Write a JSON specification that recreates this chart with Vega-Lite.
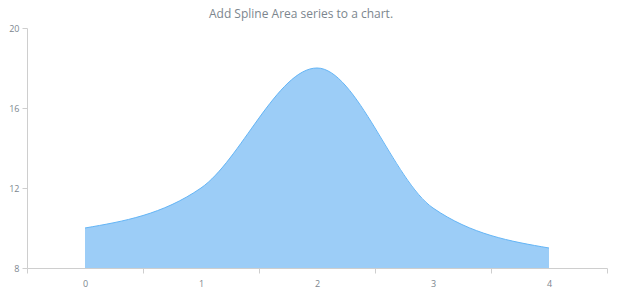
{
  "$schema": "https://vega.github.io/schema/vega-lite/v6.json",
  "autosize": "none",
  "width": 580,
  "height": 240,
  "padding": {"left": 27, "top": 28, "right": 13, "bottom": 32},
  "background": "#ffffff",
  "title": {
    "text": "Add Spline Area series to a chart.",
    "anchor": "middle",
    "dx": -16,
    "offset": 3,
    "fontSize": 12,
    "fontWeight": "normal",
    "font": "Open Sans",
    "color": "#7c868e"
  },
  "data": {
    "values": [
      {"x": "0", "value": 10},
      {"x": "1", "value": 12},
      {"x": "2", "value": 18},
      {"x": "3", "value": 11},
      {"x": "4", "value": 9}
    ]
  },
  "mark": {
    "type": "area",
    "interpolate": "monotone",
    "color": "#9ccdf7",
    "opacity": 1,
    "line": {"color": "#64b5f6", "strokeWidth": 1}
  },
  "encoding": {
    "x": {
      "field": "x",
      "type": "ordinal",
      "bandPosition": 0.5,
      "scale": {"type": "band", "paddingInner": 0, "paddingOuter": 0},
      "axis": {
        "title": null,
        "labelAngle": 0,
        "tickBand": "extent",
        "domainColor": "#cecece",
        "tickColor": "#cecece",
        "tickSize": 5,
        "labelColor": "#7c868e",
        "labelFont": "Open Sans",
        "labelFontSize": 9,
        "labelPadding": 6,
        "grid": false
      }
    },
    "y": {
      "field": "value",
      "type": "quantitative",
      "scale": {"domain": [8, 20], "zero": false, "nice": false},
      "axis": {
        "title": null,
        "values": [8, 12, 16, 20],
        "domainColor": "#cecece",
        "tickColor": "#cecece",
        "tickSize": 5,
        "labelColor": "#7c868e",
        "labelFont": "Open Sans",
        "labelFontSize": 9,
        "labelPadding": 3,
        "grid": false
      }
    },
    "y2": {"datum": 8}
  },
  "config": {"view": {"stroke": null}}
}
